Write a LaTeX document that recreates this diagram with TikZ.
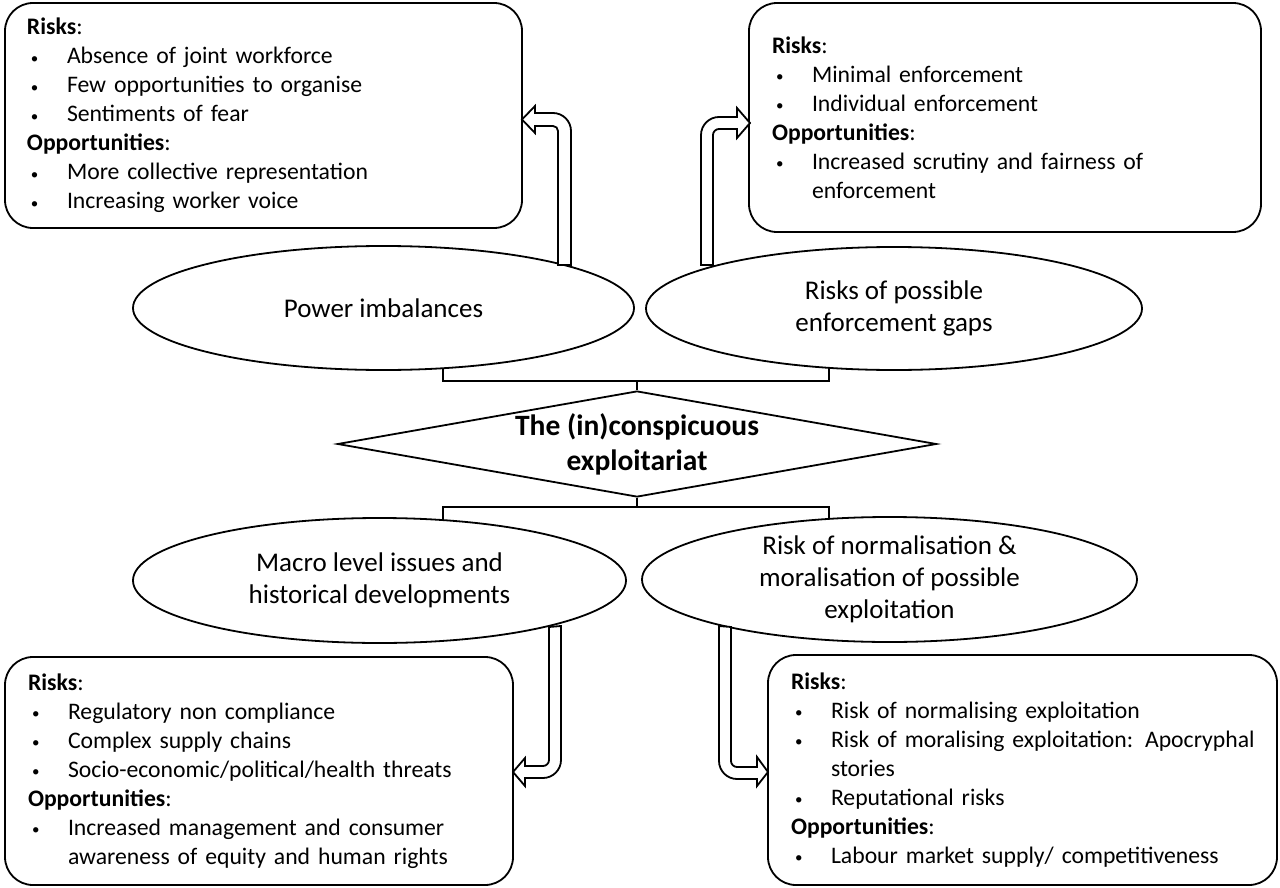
\documentclass[tikz,border=0pt]{standalone}
\usepackage{fontspec}
\setmainfont{Carlito}
\usetikzlibrary{shapes.geometric}
\newcommand\bul[1]{\mbox{\hspace*{4pt}\makebox[36pt][l]{\raisebox{0.5pt}{\fontsize{15}{15}\selectfont\textbullet}}#1}}
\newcommand\cont[1]{\mbox{\hspace*{40pt}#1}}
\tikzset{
  lw/.style={line width=1.8pt},
  infobox/.style={lw, draw, rounded corners=28pt, align=left, inner ysep=0pt,
    font=\fontsize{23.7}{29}\selectfont},
  oval/.style={lw, draw, ellipse, inner sep=0pt, align=center,
    font=\fontsize{27}{32}\selectfont},
  core/.style={lw, draw, diamond, inner sep=0pt, align=center,
    font=\bfseries\fontsize{29.5}{35}\selectfont},
  blockarrow/.style={lw, draw, fill=white, line join=miter},
  bracket/.style={line width=1.8pt}
}
\begin{document}
\begin{tikzpicture}[x=1pt,y=-1pt]
\useasboundingbox (0,0) rectangle (1280,888);

% boxes
\node[infobox, minimum width=517pt, minimum height=225pt, inner xsep=22pt, text width=473pt] (b1) at (263.5,115.5)
{\textbf{Risks}:\\
\bul{Absence of joint workforce}\\
\bul{Few opportunities to organise}\\
\bul{Sentiments of fear}\\
\textbf{Opportunities}:\\
\bul{More collective representation}\\
\bul{Increasing worker voice}};

\node[infobox, minimum width=512pt, minimum height=229pt, inner xsep=23pt, text width=466pt] (b2) at (1005,117.5)
{\textbf{Risks}:\\
\bul{Minimal enforcement}\\
\bul{Individual enforcement}\\
\textbf{Opportunities}:\\
\bul{Increased scrutiny and fairness of}\\
\cont{enforcement}};

\node[infobox, minimum width=508pt, minimum height=228pt, inner xsep=23pt, text width=462pt] (b3) at (259,771)
{\textbf{Risks}:\\
\bul{Regulatory non compliance}\\
\bul{Complex supply chains}\\
\bul{Socio-economic/political/health threats}\\
\textbf{Opportunities}:\\
\bul{Increased management and consumer}\\
\cont{awareness of equity and human rights}};

\node[infobox, minimum width=509pt, minimum height=230pt, inner xsep=23pt, text width=463pt] (b4) at (1022.5,770)
{\textbf{Risks}:\\
\bul{Risk of normalising exploitation}\\
\bul{Risk of moralising exploitation: Apocryphal}\\
\cont{stories}\\
\bul{Reputational risks}\\
\textbf{Opportunities}:\\
\bul{Labour market supply/ competitiveness}};

% ellipses
\node[oval, minimum width=501pt, minimum height=124pt] (e1) at (383.5,308) {Power imbalances};
\node[oval, minimum width=496pt, minimum height=123pt] (e2) at (894,308.5) {Risks of possible\\enforcement gaps};
\node[oval, minimum width=493pt, minimum height=125pt] (e3) at (379.5,580.5) {Macro level issues and\\historical developments};
\node[oval, minimum width=495pt, minimum height=125pt] (e4) at (889.5,579.5) {Risk of normalisation \&\\moralisation of possible\\exploitation};

% diamond
\node[core, minimum width=599pt, minimum height=106pt, aspect=5.6] (d) at (637,444) {The (in)conspicuous\\exploitariat};

% brackets
\coordinate (tl) at (443,368);
\coordinate (tr) at (829,368);
\coordinate (tm) at (637,381);
\draw[bracket] (tl) -- (443,381) -- (829,381) -- (tr);
\draw[bracket] (tm) -- (d.north);
\coordinate (bl) at (443,520);
\coordinate (br) at (829,519);
\coordinate (bm) at (637,507);
\draw[bracket] (bl) -- (443,507) -- (829,507) -- (br);
\draw[bracket] (d.south) -- (bm);

% block arrows
% e1 -> b1
\draw[blockarrow] (558,265) -- (558,131) .. controls (558,128.2) and (555.8,126) .. (553,126)
  -- (535,126) -- (535,133) -- (522,119.5) -- (535,106) -- (535,113) -- (553,113)
  .. controls (562.9,113) and (571,121.1) .. (571,131) -- (571,265) -- cycle;
% e2 -> b2
\draw[blockarrow] (713,265) -- (713,135) .. controls (713,131.7) and (715.7,129) .. (719,129)
  -- (737,129) -- (737,138) -- (750,123) -- (737,108) -- (737,117) -- (719,117)
  .. controls (709.1,117) and (701,125.1) .. (701,135) -- (701,265) -- cycle;
% e3 -> b3
\draw[blockarrow] (549,627) -- (549,760) .. controls (549,763.3) and (546.3,766) .. (543,766)
  -- (525,766) -- (525,758) -- (513,772) -- (525,786) -- (525,778) -- (543,778)
  .. controls (552.9,778) and (561,769.9) .. (561,760) -- (561,626) -- cycle;
% e4 -> b4
\draw[blockarrow] (731,627) -- (731,761) .. controls (731,764.3) and (733.7,767) .. (737,767)
  -- (757,767) -- (757,757) -- (768,772) -- (757,786) -- (757,779) -- (737,779)
  .. controls (727.1,779) and (719,770.9) .. (719,761) -- (719,626) -- cycle;
\end{tikzpicture}
\end{document}
